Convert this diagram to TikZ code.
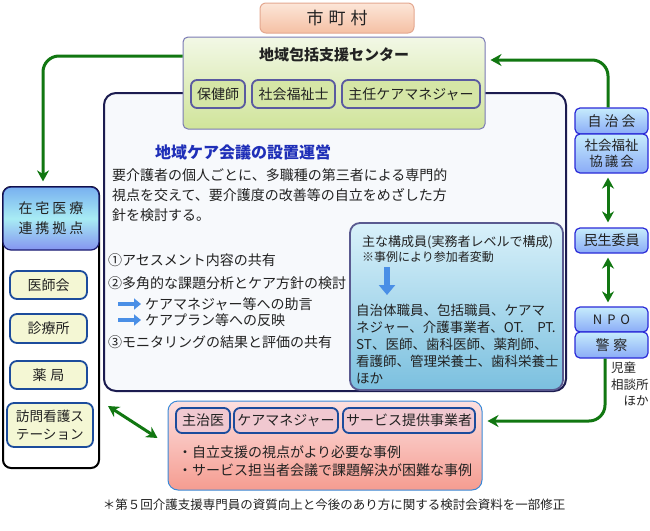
\documentclass[tikz,border=0pt]{standalone}
\usepackage{fontspec}
\setmainfont{Noto Sans CJK JP}
\usetikzlibrary{arrows.meta}
\newcommand\fsz[2]{\fontsize{#1}{#2}\selectfont}
\definecolor{txt}{HTML}{222222}
\definecolor{grn}{RGB}{17,119,17}
\definecolor{otop}{HTML}{FCE6D8} \definecolor{obot}{HTML}{F5C0A4} \definecolor{oline}{HTML}{E4A890}
\definecolor{ctop}{HTML}{F2F8E6} \definecolor{cbot}{HTML}{D0E49A} \definecolor{cline}{HTML}{7A7AB4}
\definecolor{gsub}{HTML}{D5E6A6} \definecolor{gline}{HTML}{5A5AA0}
\definecolor{navy}{HTML}{1C1C50} \definecolor{mainbg}{HTML}{F7F9FC} \definecolor{ttl}{HTML}{1F2FB8}
\definecolor{btop}{HTML}{D9F1FA} \definecolor{bbot}{HTML}{7BC0DF} \definecolor{bline}{HTML}{5A5A90}
\definecolor{blu}{HTML}{4A8FE6}
\definecolor{rtop}{HTML}{C6ECFC} \definecolor{rbot}{HTML}{8AABF7} \definecolor{rline}{HTML}{2A2AD8}
\definecolor{ztop}{HTML}{78B0F0} \definecolor{zmid}{HTML}{A8ECF4} \definecolor{zbot}{HTML}{8494F0} \definecolor{hline}{HTML}{1A1A70}
\definecolor{ysub}{HTML}{F4F7D4} \definecolor{yline}{HTML}{1C4C9C}
\definecolor{ptop}{HTML}{FDE0E0} \definecolor{pbot}{HTML}{F59C90} \definecolor{pline}{HTML}{3A8AD8} \definecolor{psub}{HTML}{F0C8D0}
\begin{document}
\begin{tikzpicture}[x=1pt,y=-1pt,line join=round,
	every node/.style={text=txt,inner sep=0pt},
	rbox/.style={draw=rline,line width=1.2pt,rounded corners=5pt,top color=rtop,bottom color=rbot,minimum width=73pt,align=center,font=\fsz{14}{16}},
	gbox/.style={draw=gline,line width=1.8pt,rounded corners=6pt,fill=gsub,minimum height=28pt,font=\fsz{14}{16}},
	ybox/.style={draw=yline,line width=1.8pt,rounded corners=7pt,fill=ysub,align=left,font=\fsz{14}{16}},
	pbox/.style={draw=yline,line width=1.8pt,rounded corners=6pt,fill=psub,minimum height=25pt,font=\fsz{14}{16}},
	garrow/.style={draw=grn,line width=3pt,rounded corners=16pt,-{Stealth[length=11pt,width=12pt]}},
	gboth/.style={draw=grn,line width=3pt,{Stealth[length=11pt,width=12pt]}-{Stealth[length=11pt,width=12pt]}},
	barrow/.style={draw=blu,line width=4pt,-{Triangle[length=7pt,width=11pt]}}]
	\fill[white] (0,0) rectangle (650,530);
	\useasboundingbox (0,0) rectangle (650,530);
	% kaigi
	\node[draw=navy,line width=2pt,rounded corners=12pt,fill=mainbg,minimum width=462pt,minimum height=298pt] (main) at (335,242) {};
	\node[draw=oline,line width=1pt,rounded corners=6pt,top color=otop,bottom color=obot,minimum width=154pt,minimum height=30pt,font=\fsz{17}{20}] (shichoson) at (337,18) {市\hspace{5pt}町\hspace{5pt}村};
	\node[draw=cline,line width=1pt,rounded corners=5pt,top color=ctop,bottom color=cbot,minimum width=302pt,minimum height=92pt] (hokatsu) at (334,83) {};
	\node[font=\bfseries\fsz{15}{18}] (hokatsutitle) at (334,55) {地域包括支援センター};
	\node[gbox,minimum width=54pt] (hokenshi) at (218,94) {保健師};
	\node[gbox,minimum width=83pt] (shakaifukushi) at (293.5,94) {社会福祉士};
	\node[gbox,minimum width=138pt] (shunin) at (411,94) {主任ケアマネジャー};
	\node[anchor=west,text=ttl,font=\bfseries\fsz{16}{18}] (kaigititle) at (155,152) {地域ケア会議の設置運営};
	\node[anchor=west,align=left,font=\fsz{14}{20}] (purpose) at (112,195) {要介護者の個人ごとに、多職種の第三者による専門的\\視点を交えて、要介護度の改善等の自立をめざした方\\針を検討する。};
	\node[anchor=west,font=\fsz{14}{16}] (item1) at (108,260) {①アセスメント内容の共有};
	\node[anchor=west,font=\fsz{14}{16}] (item2) at (108,283) {②多角的な課題分析とケア方針の検討};
	\node[anchor=west,font=\fsz{14}{16}] (adv1) at (145,304) {ケアマネジャー等への助言};
	\node[anchor=west,font=\fsz{14}{16}] (adv2) at (145,320) {ケアプラン等への反映};
	\node[anchor=west,font=\fsz{14}{16}] (item3) at (108,342) {③モニタリングの結果と評価の共有};
	\foreach \n in {adv1,adv2} \draw[barrow] ([xshift=-27pt]\n.west) -- ([xshift=-4pt]\n.west);
	% members
	\node[draw=bline,line width=1.8pt,rounded corners=10pt,top color=btop,bottom color=bbot,minimum width=213pt,minimum height=167pt] (member) at (456.5,306.5) {};
	\node[anchor=west,font=\fsz{13}{15}] (mhead) at (362,242) {主な構成員(実務者レベルで構成)};
	\node[anchor=west,font=\fsz{12}{14}] (mnote) at (362,257) {※事例により参加者変動};
	\draw[barrow,line width=6pt,-{Triangle[length=10pt,width=16pt]}] ([shift={(25,10)}]mnote.west) -- ++(0,28);
	\node[anchor=west,align=left,font=\fsz{13.5}{17}] (mlist) at (356,344) {自治体職員、包括職員、ケアマ\\ネジャー、介護事業者、OT.　PT.\\ST、医師、歯科医師、薬剤師、\\看護師、管理栄養士、歯科栄養士\\ほか};
	% right
	\node[rbox,minimum height=26pt] (jichikai) at (611.5,121) {自\hspace{3pt}治\hspace{3pt}会};
	\node[rbox,minimum height=39pt,font=\fsz{13.5}{16}] (shakyo) at (611.5,153.5) {社会福祉\\協\hspace{2pt}議\hspace{2pt}会};
	\node[rbox,minimum height=25pt] (minsei) at (611.5,240.5) {民生委員};
	\node[rbox,minimum height=25pt,font=\fsz{13}{16}] (npo) at (611.5,319.5) {N\hspace{5pt}P\hspace{5pt}O};
	\node[rbox,minimum height=26pt] (keisatsu) at (611.5,345) {警\hspace{4pt}察};
	\node[anchor=north west,align=left,font=\fsz{12.5}{16.5}] (jido) at (611,362) {児童\\相談所\\　ほか};
	% left
	\node[draw=black,line width=2pt,rounded corners=8pt,fill=white,minimum width=96pt,minimum height=281pt] (medical) at (51,327.5) {};
	\node[draw=hline,line width=1.2pt,rounded corners=8pt,top color=ztop,bottom color=zbot,middle color=zmid,minimum width=96pt,minimum height=63pt,align=center,font=\fsz{14}{20}] (zaitaku) at (51,218.5) {在\hspace{3pt}宅\hspace{3pt}医\hspace{3pt}療\\連\hspace{3pt}携\hspace{3pt}拠\hspace{3pt}点};
	\node[ybox,minimum width=77pt,minimum height=28pt] (ishikai) at (48.5,285) {医師会};
	\node[ybox,minimum width=77pt,minimum height=29pt] (shinryo) at (48.5,328.5) {診療所};
	\node[ybox,minimum width=77pt,minimum height=28pt] (yakkyoku) at (48.5,375) {薬\hspace{4pt}局};
	\node[ybox,minimum width=86pt,minimum height=44pt,font=\fsz{13.6}{18}] (houmon) at (50,425) {訪問看護ス\\テーション};
	% cases
	\node[draw=pline,line width=1pt,rounded corners=10pt,top color=ptop,bottom color=pbot,minimum width=314pt,minimum height=89pt] (case) at (325,445.5) {};
	\node[pbox,minimum width=54pt] (shujii) at (203,420.5) {主治医};
	\node[pbox,minimum width=104pt] (caremgr) at (286,420.5) {ケアマネジャー};
	\node[pbox,minimum width=132pt] (service) at (409,420.5) {サービス提供事業者};
	\node[anchor=west,align=left,font=\fsz{14}{17.5}] (cases) at (178,461) {・自立支援の視点がより必要な事例\\・サービス担当者会議で課題解決が困難な事例};
	\node[font=\fsz{12.5}{14}] (source) at (334,505) {＊第５回介護支援専門員の資質向上と今後のあり方に関する検討会資料を一部修正};
	% arrows
	\draw[garrow] ([yshift=27pt]hokatsu.west) -| ([shift={(-8,-5)}]zaitaku.north);
	\draw[garrow] ([xshift=-3.5pt]jichikai.north) |- ([shift={(5,-23)}]hokatsu.east);
	\draw[garrow] ([xshift=-6.5pt]keisatsu.south) |- ([shift={(5,-24.5)}]case.east);
	\draw[gboth] ([shift={(-3.5,4)}]shakyo.south) -- ([shift={(-3.5,-5)}]minsei.north);
	\draw[gboth] ([shift={(-3.5,4)}]minsei.south) -- ([shift={(-3.5,-4)}]npo.north);
	\draw[gboth] ([shift={(8,14)}]medical.east |- main.south) -- ([shift={(-10,-7.5)}]case.west);
\end{tikzpicture}
\end{document}
